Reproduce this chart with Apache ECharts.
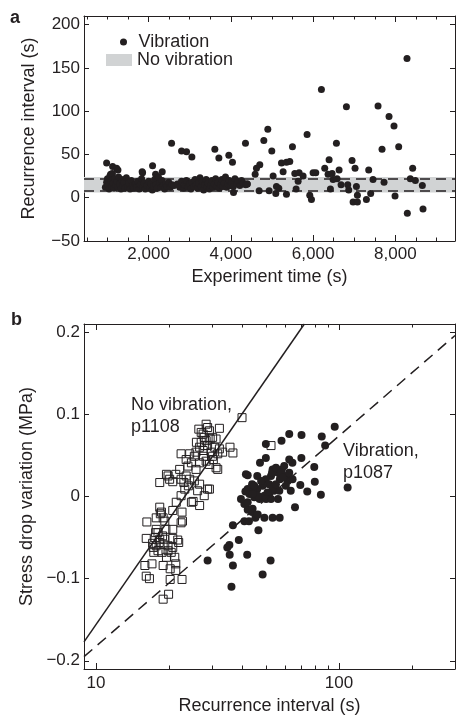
<!DOCTYPE html>
<html>
<head>
<meta charset="utf-8">
<script src="https://cdn.jsdelivr.net/npm/echarts@6.0.0/dist/echarts.min.js"></script>
<style>
html, body { margin: 0; padding: 0; background: #fff; }
#main { width: 456px; height: 719px; }
</style>
</head>
<body>
<div id="main"></div>
<script>
// ---- panel a : recurrence interval vs experiment time ----
var vibrationA = [
	[980,40],[1109,27],[1126,36],[1223,34],[1255,32],[1854,29],[2097,37],[2332,30],[2559,63],[2802,54],
	[2923,53],[3053,47],[3611,56],[3709,46],[3951,49],[4040,41],[4356,63],[4065,6],[4704,38],[4623,34],
	[4591,27],[4802,66],[4899,79],[4996,54],[5028,25],[5231,40],[5352,41],[5433,42],[5271,30],[5498,59],
	[5555,28],[5660,29],[5757,25],[5854,73],[5919,3],[5960,-2],[6000,29],[6065,29],[6202,125],[6283,34],
	[6364,27],[6389,44],[6462,28],[6567,63],[6632,32],[6810,105],[6947,43],[7020,34],[6972,-5],[7077,-5],
	[7077,3],[6866,9],[7352,32],[7296,-2],[7457,21],[7579,106],[7676,56],[7725,18],[7846,94],[7967,83],
	[8081,59],[7992,2],[8283,161],[8291,-18],[8421,34],[8364,22],[8486,20],[8656,14],[8672,-13],[7400,5],
	[6680,15],[6842,15],[6421,10],[5587,10],[5352,4],[5109,13],[4931,8],[5093,5],[5166,11],[5636,19],
	[6486,21],[7053,13],[6583,22],[4396,16],[4688,8],[1844,30],[2170,27],[1077,27],
	[950,12],[980,18],[1000,22],[1020,15],[1040,10],[1060,25],[1080,20],[1100,13],[1120,28],[1140,17],
	[1160,11],[1180,22],[1200,15],[1230,19],[1250,12],[1270,24],[1300,16],[1330,10],[1350,21],[1380,14],
	[1400,18],[1430,11],[1460,23],[1490,13],[1520,17],[1550,10],[1580,20],[1610,14],[1640,11],[1680,16],
	[1710,12],[1740,19],[1770,10],[1800,15],[1830,22],[1860,12],[1890,17],[1920,10],[1960,14],[2000,19],
	[2030,11],[2060,16],[2090,9],[2120,13],[2150,21],[2180,15],[2210,11],[2240,24],[2270,17],[2300,12],
	[2330,20],[2360,14],[2390,10],[2420,16],[2450,13],[2490,18],[2530,12],[2570,15],[2620,14],[2700,16],
	[2760,12],[2800,19],[2850,11],[2880,15],[2920,20],[2960,12],[3000,16],[3030,10],[3060,18],[3100,13],
	[3130,21],[3160,15],[3190,11],[3220,17],[3250,23],[3280,13],[3310,19],[3340,9],[3370,15],[3400,21],
	[3420,12],[3450,17],[3480,10],[3510,14],[3540,20],[3570,12],[3600,16],[3630,22],[3660,13],[3690,18],
	[3720,11],[3750,15],[3780,21],[3810,13],[3840,17],[3870,24],[3900,12],[3930,16],[3960,20],[3990,14],
	[4020,18],[4060,13],[4100,22],[4140,16],[4180,19],[4220,14],[4260,20],[4300,17],[4360,15],[4400,16]
];
var noVibBand = [6, 24];      // grey range, s
var noVibDash = [8, 22];      // dashed bounds, s
var timeLabels = [2000, 4000, 6000, 8000];
var timeMinor = [500,1000,1500,2500,3000,3500,4500,5000,5500,6500,7000,7500,8500,9000];
var intervalTicks = [-50, 0, 50, 100, 150, 200];

// ---- panel b : stress drop variation vs recurrence interval ----
var noVibrationB = [
	[39.9,0.096],[28.4,0.088],[28.8,0.084],[26.5,0.082],[29.3,0.080],[32.2,0.083],[27.9,0.072],[30.2,0.072],
	[27.1,0.066],[31.2,0.070],[28.8,0.062],[30.8,0.060],[32.2,0.058],[35.6,0.060],[36.6,0.053],[52.5,0.062],
	[31.7,0.052],[30.2,0.049],[27.6,0.056],[25.8,0.054],[24.3,0.052],[22.4,0.052],[23.5,0.045],[24.7,0.041],
	[26.7,0.041],[28.4,0.043],[31.2,0.035],[31.7,0.033],[25.8,0.033],[29.3,0.039],[19.5,0.027],[18.3,0.017],
	[19.8,0.025],[20.7,0.018],[21.3,0.027],[22.4,0.021],[23.5,0.025],[23.0,0.017],[24.0,0.013],[25.4,0.019],
	[26.7,0.015],[28.8,0.009],[29.3,0.009],[27.9,0.001],[26.2,0.007],[23.2,0.009],[22.4,0.001],[24.7,-0.007],
	[25.1,-0.006],[26.7,-0.011],[21.4,-0.007],[20.7,-0.017],[22.6,-0.019],[22.7,-0.030],[22.4,-0.032],[18.3,-0.013],
	[18.4,-0.021],[18.9,-0.026],[19.2,-0.030],[16.2,-0.031],[17.7,-0.040],[18.0,-0.044],[18.8,-0.048],[19.4,-0.040],
	[17.5,-0.050],[18.3,-0.052],[18.9,-0.058],[17.7,-0.060],[17.2,-0.062],[18.0,-0.066],[18.7,-0.068],[19.8,-0.066],
	[20.7,-0.051],[21.7,-0.053],[21.9,-0.056],[20.7,-0.062],[20.4,-0.068],[21.1,-0.074],[21.3,-0.082],[16.1,-0.051],
	[17.1,-0.057],[15.9,-0.084],[17.0,-0.082],[16.1,-0.097],[16.6,-0.100],[18.9,-0.084],[20.2,-0.088],[21.3,-0.090],
	[20.2,-0.101],[22.6,-0.101],[19.9,-0.119],[18.9,-0.125],[26.7,0.060],[25.4,0.049],[29.8,0.054],[33.2,0.054],
	[27.6,0.076],[28.4,0.068],[27.1,0.078],[29.5,0.070],[28.0,0.062],[25.9,0.066],[30.4,0.045],[27.7,0.049],
	[23.9,0.037],[22.1,0.033],[20.1,0.021],[24.3,0.021],[17.6,-0.044],[18.2,-0.056],[19.2,-0.052],[19.8,-0.060],
	[17.3,-0.068],[19.5,-0.074],[18.6,-0.019],[17.7,-0.026],[20.7,-0.040]
];
var vibrationB = [
	[96.0,0.085],[84.9,0.073],[87.7,0.062],[108.5,0.011],[70.1,0.075],[62.4,0.076],[58.0,0.068],[50.0,0.064],
	[47.3,0.041],[50.0,0.047],[41.4,0.027],[70.0,0.047],[64.3,0.041],[79.1,0.036],[79.5,0.018],[84.2,0.002],
	[74.0,0.006],[69.3,0.014],[63.3,0.007],[65.9,-0.013],[53.3,0.033],[56.1,0.029],[58.2,0.033],[60.6,0.025],
	[61.5,0.019],[57.1,0.021],[52.5,0.025],[50.0,0.021],[51.6,0.015],[48.5,0.013],[46.1,0.009],[44.2,0.009],
	[42.1,0.009],[42.8,0.003],[44.8,-0.001],[47.1,-0.003],[49.3,0.001],[51.6,0.003],[54.0,0.007],[56.1,-0.003],
	[43.9,0.015],[41.2,0.006],[40.8,-0.009],[42.1,-0.016],[43.9,-0.019],[40.8,-0.030],[42.6,-0.030],[45.3,-0.026],
	[49.3,-0.026],[53.3,-0.026],[57.0,-0.026],[46.6,-0.041],[36.6,-0.035],[38.7,-0.053],[35.4,-0.059],[34.7,-0.062],
	[35.5,-0.071],[36.6,-0.084],[41.9,-0.071],[36.1,-0.110],[48.5,-0.095],[52.3,-0.078],[28.8,-0.078],[46.1,0.025],
	[53.0,0.029],[55.0,0.035],[57.7,0.029],[58.9,0.023],[62.4,0.029],[64.4,0.021],[60.4,0.013],[56.8,0.007],
	[53.3,0.009],[50.8,0.005],[46.3,0.001],[44.1,0.003],[50.1,-0.003],[52.5,-0.003],[47.8,0.019],[55.0,0.015],
	[59.5,0.037],[62.4,0.045],[44.1,-0.015],[42.1,-0.007],[46.3,-0.022],[39.5,-0.003],[44.8,0.013],[42.1,0.026]
];
var fitNoVib = [[8.93, -0.177], [72, 0.21]];
var fitVib = [[8.93, -0.195], [300, 0.196]];
var recurLabels = [10, 100];
var recurMinor = [20, 30, 40, 50, 60, 70, 80, 90, 200, 300];
var stressTicks = [-0.2, -0.1, 0, 0.1, 0.2];

var ink = '#231f20';
var grey = '#d1d3d4';
var font = "'Liberation Sans', Arial, sans-serif";

function log10(v) { return Math.log(v) / Math.LN10; }
function minus(s) { return String(s).replace('-', '\u2212'); }

// x of panel b is drawn on log10 scale
var recurMin = log10(8.93), recurMax = log10(300);
var noVibLog = noVibrationB.map(function (p) { return [log10(p[0]), p[1]]; });
var vibLog = vibrationB.map(function (p) { return [log10(p[0]), p[1]]; });
var fitNoVibLog = fitNoVib.map(function (p) { return [log10(p[0]), p[1]]; });
var fitVibLog = fitVib.map(function (p) { return [log10(p[0]), p[1]]; });

function tickAxis(base, pos, values, len) {
	return Object.assign({
		position: pos,
		axisLine: { show: false, onZero: false },
		axisLabel: { show: false },
		axisTick: { show: true, inside: true, length: len, customValues: values, lineStyle: { color: ink, width: 1 } },
		splitLine: { show: false }
	}, base);
}

var baseA = { type: 'value', gridIndex: 0, min: 430, max: 9450 };
var baseAy = { type: 'value', gridIndex: 0, min: -50, max: 210 };
var baseB = { type: 'value', gridIndex: 1, min: recurMin, max: recurMax };
var baseBy = { type: 'value', gridIndex: 1, min: -0.21, max: 0.21 };
var lineAx = { show: true, onZero: false, lineStyle: { color: ink, width: 1 } };
var labelTxt = { color: ink, fontSize: 17, fontFamily: font };
var nameTxt = { color: ink, fontSize: 18, fontFamily: font };

var myChart = echarts.init(document.getElementById('main'));
var option = {
	animation: false,
	backgroundColor: '#fff',
	grid: [
		{ left: 84, top: 16, right: 1, height: 225, outerBoundsMode: 'none' },
		{ left: 84, top: 324, right: 1, height: 345, outerBoundsMode: 'none' }
	],
	legend: [
		{ left: 120, top: 33, padding: 0, itemWidth: 20, itemHeight: 7, data: [{ name: 'Vibration', icon: 'circle' }],
			textStyle: { color: ink, fontSize: 18, fontFamily: font }, selectedMode: false },
		{ left: 106, top: 51, padding: 0, itemWidth: 26, itemHeight: 12, data: [{ name: 'No vibration', icon: 'rect' }],
			textStyle: { color: ink, fontSize: 18, fontFamily: font }, selectedMode: false }
	],
	xAxis: [
		Object.assign({}, baseA, {
			position: 'bottom',
			axisLine: lineAx,
			axisTick: { inside: true, length: 6, customValues: timeLabels, lineStyle: { color: ink } },
			axisLabel: { customValues: timeLabels, margin: 5, formatter: function (v) { return v.toLocaleString('en-US'); }, textStyle: labelTxt },
			splitLine: { show: false },
			name: 'Experiment time (s)', nameLocation: 'middle', nameGap: 27, nameTextStyle: nameTxt
		}),
		tickAxis(baseA, 'bottom', timeMinor, 3.5),
		Object.assign({}, baseA, {
			position: 'top', axisLine: lineAx, axisLabel: { show: false }, splitLine: { show: false },
			axisTick: { inside: true, length: 6, customValues: timeLabels, lineStyle: { color: ink } }
		}),
		tickAxis(baseA, 'top', timeMinor, 3.5),
		Object.assign({}, baseB, {
			position: 'bottom',
			axisLine: lineAx,
			axisTick: { inside: true, length: 6, customValues: recurLabels.map(log10), lineStyle: { color: ink } },
			axisLabel: { customValues: recurLabels.map(log10), margin: 6, formatter: function (v) { return String(Math.round(Math.pow(10, v))); }, textStyle: labelTxt },
			splitLine: { show: false },
			name: 'Recurrence interval (s)', nameLocation: 'middle', nameGap: 28, nameTextStyle: nameTxt
		}),
		tickAxis(baseB, 'bottom', recurMinor.map(log10), 3.5),
		Object.assign({}, baseB, {
			position: 'top', axisLine: lineAx, axisLabel: { show: false }, splitLine: { show: false },
			axisTick: { inside: true, length: 6, customValues: recurLabels.map(log10), lineStyle: { color: ink } }
		}),
		tickAxis(baseB, 'top', recurMinor.map(log10), 3.5)
	],
	yAxis: [
		Object.assign({}, baseAy, {
			position: 'left',
			axisLine: lineAx,
			axisTick: { inside: true, length: 5, customValues: intervalTicks, lineStyle: { color: ink } },
			axisLabel: { customValues: intervalTicks, margin: 4, formatter: function (v) { return minus(v); }, textStyle: labelTxt },
			splitLine: { show: false },
			name: 'Recurrence interval (s)', nameLocation: 'middle', nameGap: 46, nameTextStyle: nameTxt
		}),
		Object.assign({}, baseAy, {
			position: 'right', axisLine: lineAx, axisLabel: { show: false }, splitLine: { show: false },
			axisTick: { inside: true, length: 5, customValues: intervalTicks, lineStyle: { color: ink } }
		}),
		Object.assign({}, baseBy, {
			position: 'left',
			axisLine: lineAx,
			axisTick: { inside: true, length: 5, customValues: stressTicks, lineStyle: { color: ink } },
			axisLabel: { customValues: stressTicks, margin: 4, formatter: function (v) { return v === 0 ? '0' : minus(v.toFixed(1)); }, textStyle: labelTxt },
			splitLine: { show: false },
			name: 'Stress drop variation (MPa)', nameLocation: 'middle', nameGap: 46, nameTextStyle: nameTxt
		}),
		Object.assign({}, baseBy, {
			position: 'right', axisLine: lineAx, axisLabel: { show: false }, splitLine: { show: false },
			axisTick: { inside: true, length: 5, customValues: stressTicks, lineStyle: { color: ink } }
		})
	],
	series: [
		{
			name: 'No vibration', type: 'line', xAxisIndex: 0, yAxisIndex: 0, data: [],
			itemStyle: { color: grey }, lineStyle: { color: grey },
			markArea: { silent: true, itemStyle: { color: grey }, data: [[{ yAxis: noVibBand[0] }, { yAxis: noVibBand[1] }]] },
			markLine: {
				silent: true, symbol: ['none', 'none'], label: { show: false },
				lineStyle: { color: ink, width: 1.5, type: [10, 6] },
				data: noVibDash.map(function (v) { return { yAxis: v }; })
			}
		},
		{
			name: 'Vibration', type: 'scatter', xAxisIndex: 0, yAxisIndex: 0, data: vibrationA,
			symbol: 'circle', symbolSize: 7, itemStyle: { color: ink, opacity: 1 }
		},
		{
			name: 'fit no vibration', type: 'line', xAxisIndex: 4, yAxisIndex: 2, data: fitNoVibLog,
			symbol: 'none', clip: true, lineStyle: { color: ink, width: 1.5 }
		},
		{
			name: 'fit vibration', type: 'line', xAxisIndex: 4, yAxisIndex: 2, data: fitVibLog,
			symbol: 'none', clip: true, lineStyle: { color: ink, width: 1.5, type: [11, 7] }
		},
		{
			name: 'No vibration, p1108', type: 'scatter', xAxisIndex: 4, yAxisIndex: 2, data: noVibLog,
			symbol: 'rect', symbolSize: 8, itemStyle: { color: 'rgba(0,0,0,0)', borderColor: ink, borderWidth: 1, opacity: 1 }
		},
		{
			name: 'Vibration, p1087', type: 'scatter', xAxisIndex: 4, yAxisIndex: 2, data: vibLog,
			symbol: 'circle', symbolSize: 8, itemStyle: { color: ink, opacity: 1 }
		}
	],
	graphic: [
		{ type: 'text', left: 10, top: 9, style: { text: 'a', fill: ink, font: 'bold 18px ' + font } },
		{ type: 'text', left: 11, top: 311, style: { text: 'b', fill: ink, font: 'bold 18px ' + font } },
		{ type: 'text', left: 131, top: 394, style: { text: 'No vibration,\np1108', fill: ink, font: '18px ' + font, lineHeight: 22 } },
		{ type: 'text', left: 343, top: 440, style: { text: 'Vibration,\np1087', fill: ink, font: '18px ' + font, lineHeight: 22 } }
	]
};
myChart.setOption(option);
</script>
</body>
</html>
